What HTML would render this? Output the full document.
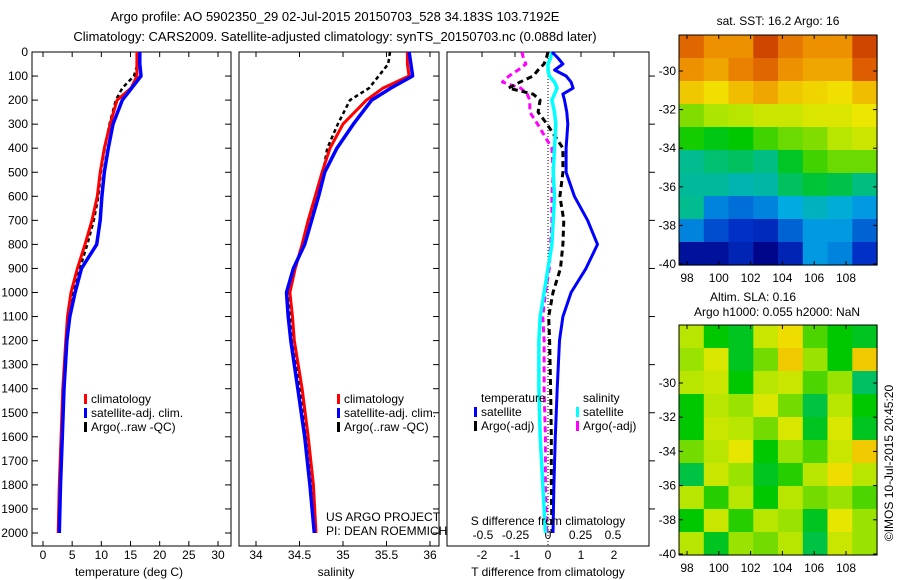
<!DOCTYPE html>
<html><head><meta charset="utf-8"><style>
body{margin:0;background:#fff}
svg{display:block;font-family:"Liberation Sans",sans-serif}
text{fill:#000}
</style></head><body>
<svg id="c" width="900" height="580" viewBox="0 0 900 580">
<text x="335" y="21" font-size="13" text-anchor="middle">Argo profile: AO 5902350_29 02-Jul-2015 20150703_528 34.183S 103.7192E</text>
<text x="335" y="41" font-size="13" text-anchor="middle">Climatology: CARS2009. Satellite-adjusted climatology: synTS_20150703.nc (0.088d later)</text>
<g id="g"></g>
</svg>
<script>
// ---- profile data ----
const depths=[0,50,100,150,200,300,400,500,600,700,800,900,1000,1100,1200,1400,1600,1800,2000];
const tempClim=[16.1,16.1,16.1,15.1,12.7,11.5,10.5,9.8,9.3,8.4,7.2,5.9,4.8,4.2,3.9,3.4,3.1,2.8,2.6];
const tempSat=[16.6,16.6,16.8,15.2,13.6,12.0,11.2,10.5,10.1,9.8,9.2,6.6,5.5,4.6,4.1,3.6,3.3,3.0,2.8];
const tempArgo=[16.2,16.2,15.6,13.6,12.5,11.4,10.6,9.9,9.5,8.7,7.6,6.3,5.1,4.4,4.0,3.5,3.1,2.8,2.7];
const salClim=[35.74,35.74,35.76,35.46,35.27,35.0,34.85,34.76,34.68,34.6,34.53,34.45,34.39,34.42,34.44,34.53,34.6,34.66,34.69];
const salSat=[35.76,35.78,35.8,35.55,35.33,35.12,34.93,34.79,34.72,34.64,34.56,34.43,34.35,34.37,34.4,34.48,34.56,34.62,34.67];
const salArgo=[35.54,35.52,35.41,35.3,35.08,34.94,34.82,34.77,34.69,34.61,34.54,34.45,34.38,34.4,34.43,34.5,34.58,34.64,34.68];
// ---- difference data ----
const diffDepths=[0,25,50,75,100,125,150,175,200,250,300,400,500,600,700,800,900,1000,1100,1200,1400,1600,1800,2000];
const tDiffSat=[0.12,0.3,0.45,0.2,0.55,0.7,0.76,0.45,0.5,0.57,0.6,0.55,0.55,0.8,1.2,1.5,1.15,0.7,0.45,0.35,0.28,0.22,0.18,0.15];
const tDiffArgo=[0.0,-0.05,-0.12,-0.3,-0.45,-0.85,-1.2,-0.45,-0.24,-0.3,-0.03,0.45,0.45,0.36,0.48,0.45,0.38,0.15,0.02,0.05,0.08,0.1,0.1,0.12];
const sDiffSat=[0.03,0.02,0.0,0.0,0.01,0.05,0.07,0.05,0.03,0.05,0.06,0.05,0.04,0.05,0.04,0.03,0.0,-0.03,-0.06,-0.07,-0.07,-0.06,-0.04,-0.02];
const sDiffArgo=[-0.2,-0.19,-0.17,-0.23,-0.3,-0.35,-0.21,-0.16,-0.14,-0.14,-0.08,0.03,0.04,0.03,0.03,0.02,0.01,-0.02,-0.04,-0.03,-0.03,-0.02,-0.02,-0.01];
// ---- tick labels ----
const depthTicks=[0,100,200,300,400,500,600,700,800,900,1000,1100,1200,1300,1400,1500,1600,1700,1800,1900,2000];
const tempTicks=[0,5,10,15,20,25,30];
const salTicks=[34,34.5,35,35.5,36];
const tDiffTicks=[-2,-1,0,1,2];
const sDiffTicks=[-0.5,-0.25,0,0.25,0.5];
const sDiffTickLabels=["-0.5","-0.25","0","0.25","0.5"];
const lonTicks=[98,100,102,104,106,108];
const latTicks=[-30,-32,-34,-36,-38,-40];
// ---- map grids (rows top->bottom, cols west->east) ----
const sstGrid=[
[18.5,18,18,18.8,18.3,18,18,18.8],
[18,17.8,18.2,18.5,18,17.8,17.8,18.6],
[17.5,17.3,17.6,17.8,17.5,17.4,17.3,17.6],
[16.3,16.5,16.6,16.8,16.8,17,17,17.2],
[15.8,15.6,15.7,16,16.2,16.3,16.6,16.8],
[14.9,15.1,15.2,15,15.5,16,16.2,16.2],
[14.8,14.8,14.6,14.7,15.2,15.4,15.3,15],
[14.9,13.8,13.6,13.8,14.2,14.5,14.3,14],
[13.8,13.3,13,12.9,13.5,14,14,13.5],
[12.5,12.5,12.8,12.3,12.8,14,13.8,13]];
const slaGrid=[
[0.06,-0.04,-0.06,0.08,0.14,0.0,-0.04,-0.06],
[0.04,0.1,-0.06,0.02,0.16,0.04,-0.04,0.16],
[0.06,0.08,-0.04,0.06,0.08,0.0,0.04,-0.1],
[-0.04,0.06,0.04,0.1,0.02,-0.08,0.06,-0.04],
[-0.04,0.08,0.06,0.02,0.1,-0.06,0.1,-0.06],
[0.02,0.06,0.12,-0.04,0.04,0.0,0.08,0.16],
[-0.08,0.08,0.04,-0.06,-0.02,0.06,0.14,0.06],
[0.06,-0.02,0.06,-0.04,0.06,0.02,0.04,0.0],
[-0.04,0.08,-0.02,0.06,0.04,-0.06,0.12,0.04],
[0.06,-0.06,0.04,0.02,0.06,-0.08,0.08,0.04]];

const NS='http://www.w3.org/2000/svg';
const G=document.getElementById('g');
function mk(tag,at,parent){const e=document.createElementNS(NS,tag);for(const k in at)e.setAttribute(k,at[k]);(parent||G).appendChild(e);return e;}
function txt(x,y,s,anchor,size){const t=mk('text',{x:x,y:y,'font-size':size||12,'text-anchor':anchor||'middle'});t.textContent=s;return t;}
const yTop=52,yBot=546;
const yD=d=>yTop+d*0.2405;
function lin(d0,d1,r0,r1){return v=>r0+(v-d0)*(r1-r0)/(d1-d0);}
const xT=lin(0,30,43,218), xS=lin(34,36,256,430), xTd=lin(0,2,548,614), xSd=lin(0,0.5,548,613);

function frame(x0,x1,name){const r=mk('rect',{x:x0,y:yTop,width:x1-x0,height:yBot-yTop,fill:'none',stroke:'#000','stroke-width':1});
}
function line(xs,ds,fx,color,w,dash,name){
  const pts=xs.map((v,i)=>fx(v).toFixed(1)+','+yD(ds[i]).toFixed(1)).join(' ');
  const p=mk('polyline',{points:pts,fill:'none',stroke:color,'stroke-width':w,'stroke-dasharray':dash||'none','stroke-linejoin':'round'});
  }
function legend(x,y,color,label,name){
  const g=mk('g',{});
  
  mk('rect',{x:x,y:y-9,width:3,height:10,fill:color},g);
  const t=mk('text',{x:x+7,y:y,'font-size':12},g);t.textContent=label;}

// Panel 1 temperature
frame(32,231,'temperature-panel');
depthTicks.forEach(d=>{const y=yD(d);mk('line',{x1:32,y1:y,x2:38,y2:y,stroke:'#000'});mk('line',{x1:225,y1:y,x2:231,y2:y,stroke:'#000'});
 const t=txt(28,y+4,String(d),'end');});
tempTicks.forEach(v=>{const x=xT(v);mk('line',{x1:x,y1:yTop,x2:x,y2:yTop+5,stroke:'#000'});mk('line',{x1:x,y1:yBot,x2:x,y2:yBot-5,stroke:'#000'});
 const t=txt(x,559,String(v));});
line(tempArgo,depths,xT,'#000',2.5,'4,3','temperature-argo-line');
line(tempClim,depths,xT,'#f00',3,null,'temperature-climatology-line');
line(tempSat,depths,xT,'#00f',3.5,null,'temperature-satellite-line');
{const t=txt(129,576,'temperature (deg C)');}
legend(84,403,'#f00','climatology','legend-climatology');
legend(84,417,'#00f','satellite-adj. clim.','legend-satellite-adj');
legend(84,431,'#000','Argo(..raw -QC)','legend-argo');

// Panel 2 salinity
frame(239,439,'salinity-panel');
depthTicks.forEach(d=>{const y=yD(d);mk('line',{x1:433,y1:y,x2:439,y2:y,stroke:'#000'});});
salTicks.forEach(v=>{const x=xS(v);mk('line',{x1:x,y1:yTop,x2:x,y2:yTop+5,stroke:'#000'});mk('line',{x1:x,y1:yBot,x2:x,y2:yBot-5,stroke:'#000'});
 const t=txt(x,559,String(v));});
line(salArgo,depths,xS,'#000',2.5,'4,3','salinity-argo-line');
line(salClim,depths,xS,'#f00',3,null,'salinity-climatology-line');
line(salSat,depths,xS,'#00f',3.5,null,'salinity-satellite-line');
{const t=txt(336,576,'salinity');}
legend(337,403,'#f00','climatology','legend-climatology-2');
legend(337,417,'#00f','satellite-adj. clim.','legend-satellite-adj-2');
legend(337,431,'#000','Argo(..raw -QC)','legend-argo-2');
{const t=txt(326,521,'US ARGO PROJECT','start');
 const t2=txt(326,535,'PI: DEAN ROEMMICH','start');}

// Panel 3 differences
frame(447,649,'difference-panel');
tDiffTicks.forEach(v=>{const x=xTd(v);mk('line',{x1:x,y1:yTop,x2:x,y2:yTop+5,stroke:'#000'});
 const t=txt(x,559,String(v));});
[100,300,500,700,900,1100,1300,1500,1700,1900].forEach(d=>{const y=yD(d);mk('line',{x1:649,y1:y,x2:655,y2:y,stroke:'#000'});});
sDiffTicks.forEach((v,i)=>{const t=txt(xSd(v),539,sDiffTickLabels[i]);});
mk('line',{x1:548,y1:yTop,x2:548,y2:yBot,stroke:'#000','stroke-width':1,'stroke-dasharray':'1,2'});
line(sDiffArgo,diffDepths,xSd,'#f0f',3,'6,4','s-diff-argo-line');
line(tDiffArgo,diffDepths,xTd,'#000',3,'6,4','t-diff-argo-line');
line(sDiffSat,diffDepths,xSd,'#0ff',3.5,null,'s-diff-satellite-line');
line(tDiffSat,diffDepths,xTd,'#00f',3,null,'t-diff-satellite-line');
{const t=txt(548,525,'S difference from climatology');
 const t2=txt(548,576,'T difference from climatology');
 const t3=txt(481,402,'temperature','start');
 const t4=txt(583,402,'salinity','start');}
legend(474,416,'#00f','satellite','legend-t-satellite');
legend(474,430,'#000','Argo(-adj)','legend-t-argo');
legend(576,416,'#0ff','satellite','legend-s-satellite');
legend(576,430,'#f0f','Argo(-adj)','legend-s-argo');

// Maps
const cmStops=[[0,0,0,130],[0.12,0,50,200],[0.28,0,170,230],[0.4,0,190,130],[0.5,0,200,0],[0.62,180,230,0],[0.72,240,230,0],[0.82,240,150,0],[0.92,220,90,0],[1,170,20,0]];
function cmap(t){t=Math.max(0,Math.min(1,t));
 for(let i=1;i<cmStops.length;i++){const a=cmStops[i-1],b=cmStops[i];if(t<=b[0]){const f=(t-a[0])/(b[0]-a[0]);
  return 'rgb('+[1,2,3].map(k=>Math.round(a[k]+(b[k]-a[k])*f)).join(',')+')';}}
 return 'rgb(170,20,0)';}
function map(grid,x0,y0,x1,y1,latTopY,vmin,vmax,name){
  const g=mk('g',{});
  
  const rows=grid.length,cols=grid[0].length,cw=(x1-x0)/cols,ch=(y1-y0)/rows;
  grid.forEach((row,r)=>row.forEach((v,c)=>{
    const cell=mk('rect',{x:(x0+c*cw).toFixed(1),y:(y0+r*ch).toFixed(1),width:(cw+0.6).toFixed(1),height:(ch+0.6).toFixed(1),fill:cmap((v-vmin)/(vmax-vmin))},g);
    
    
  }));
  mk('rect',{x:x0,y:y0,width:x1-x0,height:y1-y0,fill:'none',stroke:'#000'},g);
  const xl=lin(98,108,687,846), yl=lin(-30,-40,latTopY,y1-1);
  lonTicks.forEach(v=>{const x=xl(v);mk('line',{x1:x,y1:y0,x2:x,y2:y0+4,stroke:'#000'},g);mk('line',{x1:x,y1:y1,x2:x,y2:y1-4,stroke:'#000'},g);
    const t=mk('text',{x:x,y:y1+17,'font-size':12,'text-anchor':'middle'},g);t.textContent=String(v);});
  latTicks.forEach(v=>{const y=yl(v);mk('line',{x1:x0,y1:y,x2:x0+4,y2:y,stroke:'#000'},g);mk('line',{x1:x1,y1:y,x2:x1-4,y2:y,stroke:'#000'},g);
    const t=mk('text',{x:x0-3,y:y+4,'font-size':12,'text-anchor':'end'},g);t.textContent=String(v);});
}
map(sstGrid,679,35,877,265,71,12.2,19.2,'sst-map');
map(slaGrid,679,325,877,555,383,-0.43,0.35,'sla-map');
{const t=txt(778,25,'sat. SST: 16.2 Argo: 16');
 const t2=txt(753,301,'Altim. SLA: 0.16');
 const t3=txt(777,316,'Argo h1000: 0.055 h2000: NaN');
 const t4=txt(0,0,'©IMOS 10-Jul-2015 20:45:20');t4.setAttribute('transform','translate(893,463) rotate(-90)');
 }
</script>
</body></html>
